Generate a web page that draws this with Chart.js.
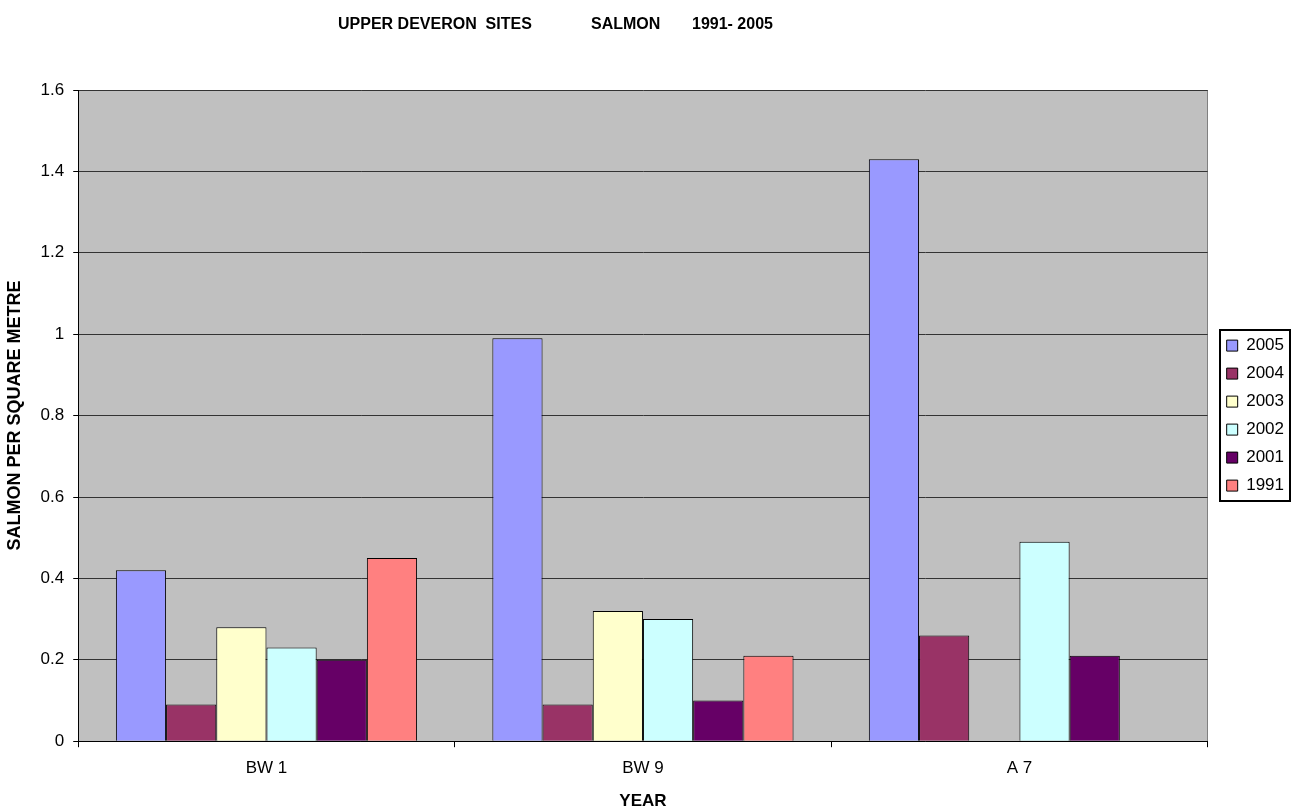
<!DOCTYPE html>
<html>
<head>
<meta charset="utf-8">
<title>Upper Deveron sites - salmon</title>
<script src="https://cdn.jsdelivr.net/npm/chart.js@4"></script>
<style>
  html, body { margin: 0; padding: 0; background: #fff; }
  #wrap { width: 1299px; height: 812px; position: relative; }
</style>
</head>
<body>
<div id="wrap"><canvas id="chart"></canvas></div>
<script>
var sites = ["BW 1", "BW 9", "A 7"];
var years = ["2005", "2004", "2003", "2002", "2001", "1991"];
var salmon2005 = [0.42, 0.99, 1.43];
var salmon2004 = [0.09, 0.09, 0.26];
var salmon2003 = [0.28, 0.32, null];
var salmon2002 = [0.23, 0.30, 0.49];
var salmon2001 = [0.20, 0.10, 0.21];
var salmon1991 = [0.45, 0.21, null];
var yTicks = [0, 0.2, 0.4, 0.6, 0.8, 1, 1.2, 1.4, 1.6];

var FONT = "'Liberation Sans', Arial, sans-serif";

function init() {
	var colors = ["#9999FF", "#993366", "#FFFFCC", "#CCFFFF", "#660066", "#FF8080"];
	var values = [salmon2005, salmon2004, salmon2003, salmon2002, salmon2001, salmon1991];
	var datasets = [];
	years.forEach(function(year, i) {
		datasets.push({
			label: year,
			data: values[i],
			backgroundColor: colors[i],
			borderColor: "#000",
			borderWidth: 1,
			categoryPercentage: 0.8,
			barPercentage: 1.0
		});
	});

	// grey plot area, right edge line, title and legend frame
	var excelLook = {
		id: "excelLook",
		beforeDraw: function(chart) {
			var a = chart.chartArea, ctx = chart.ctx;
			ctx.save();
			ctx.fillStyle = "#C0C0C0";
			ctx.fillRect(a.left, a.top, a.right - a.left, a.bottom - a.top);
			ctx.strokeStyle = "#808080";
			ctx.lineWidth = 1;
			ctx.beginPath();
			ctx.moveTo(Math.round(a.right) - 0.5, a.top);
			ctx.lineTo(Math.round(a.right) - 0.5, a.bottom);
			ctx.stroke();
			ctx.restore();
		},
		afterLayout: function(chart) {
			chart.legend.left += 8;
			chart.legend.right += 8;
		},
		afterDraw: function(chart) {
			var ctx = chart.ctx;
			ctx.save();
			ctx.fillStyle = "#000";
			ctx.font = "bold 16px " + FONT;
			ctx.textBaseline = "middle";
			ctx.textAlign = "left";
			ctx.fillText("UPPER DEVERON  SITES", 338, 25);
			ctx.fillText("SALMON", 591, 25);
			ctx.fillText("1991- 2005", 692, 25);
			var boxes = chart.legend.legendHitBoxes;
			if (boxes && boxes.length) {
				var first = boxes[0], last = boxes[boxes.length - 1];
				var x0 = first.left - 7;
				var y0 = first.top + 8.5 - 16;
				var y1 = last.top + 8.5 + 15;
				ctx.strokeStyle = "#000";
				ctx.lineWidth = 2;
				ctx.strokeRect(Math.round(x0), Math.round(y0), 70, Math.round(y1 - y0));
			}
			ctx.restore();
		}
	};

	new Chart("chart", {
		type: "bar",
		data: { labels: sites, datasets: datasets },
		plugins: [excelLook],
		options: {
			responsive: true,
			maintainAspectRatio: false,
			animation: false,
			layout: { padding: { top: 90, right: 13, bottom: 0, left: 0 } },
			plugins: {
				title: { display: false },
				tooltip: { enabled: false },
				legend: {
					position: "right",
					fullSize: false,
					labels: {
						color: "#000",
						font: { family: FONT, size: 17 },
						boxWidth: 11,
						boxHeight: 11,
						padding: 11
					}
				}
			},
			scales: {
				x: {
					grid: {
						drawOnChartArea: false,
						drawTicks: true,
						tickLength: 6,
						color: "#000"
					},
					border: { color: "#000", width: 1 },
					ticks: {
						color: "#000",
						padding: 11,
						font: { family: FONT, size: 17 }
					},
					title: {
						display: true,
						text: "YEAR",
						color: "#000",
						font: { family: FONT, size: 17, weight: "bold" },
						padding: { top: 2, bottom: 0 }
					}
				},
				y: {
					min: 0,
					max: 1.6,
					afterBuildTicks: function(scale) {
						scale.ticks = yTicks.map(function(v) { return { value: v }; });
					},
					grid: {
						color: "#333",
						tickColor: "#000",
						tickLength: 5
					},
					border: { color: "#000", width: 1 },
					ticks: {
						color: "#000",
						padding: 9,
						font: { family: FONT, size: 17 },
						callback: function(value) { return String(value); }
					},
					title: {
						display: true,
						text: "SALMON PER SQUARE METRE",
						color: "#000",
						font: { family: FONT, size: 18, weight: "bold" },
						padding: { top: 4, bottom: 6 }
					}
				}
			}
		}
	});
}

init();
</script>
</body>
</html>
